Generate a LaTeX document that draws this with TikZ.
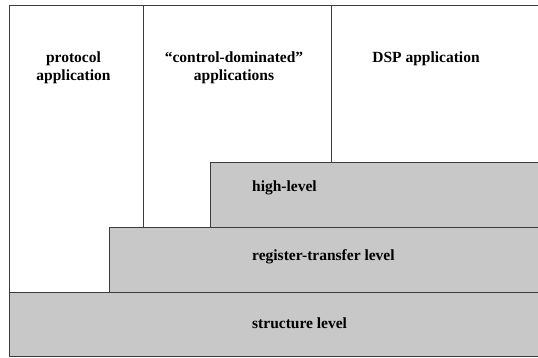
\documentclass[tikz,border=0pt]{standalone}
\usepackage{fontspec}
\setmainfont{Liberation Serif}
\usepackage{xcolor}
\definecolor{ColLine}{RGB}{60,60,60}
\definecolor{ColLevel}{RGB}{200,200,200}
\usepackage{tikz}
\tikzstyle{Wall}=[draw=ColLine,line width=1pt]
\tikzstyle{Level}=[draw=ColLine,fill=ColLevel,line width=1pt]
\tikzstyle{NodeApp}=[font=\fontsize{15.5}{18}\selectfont\bfseries,align=center,inner sep=0pt]
\tikzstyle{NodeLevel}=[font=\fontsize{15.5}{18}\selectfont\bfseries,anchor=west,inner sep=0pt]
\begin{document}
\begin{tikzpicture}[x=1pt,y=-1pt]
        \useasboundingbox(0,0)rectangle(538,357);
        \clip(0,0)rectangle(538,357);
        \fill[white](0,0)rectangle(538,357);
        \draw[Level](210,162)rectangle(560,227);
        \draw[Level](109,227)rectangle(560,292);
        \draw[Level](9,292)rectangle(560,356);
        \draw[Wall](9,292)--(9,5)--(560,5);
        \draw[Wall](143,5)--(143,227);
        \draw[Wall](331,5)--(331,162);
        \node[NodeApp](p)at(73.5,68){protocol\\application};
        \node[NodeApp](c)at(234,68){``control-dominated''\\applications};
        \node[NodeApp](d)at(426,59){DSP application};
        \node[NodeLevel](h)at(252,188){high-level};
        \node[NodeLevel](r)at(252,257){register-transfer level};
        \node[NodeLevel](s)at(252,323){structure level};
    \end{tikzpicture}
\end{document}
